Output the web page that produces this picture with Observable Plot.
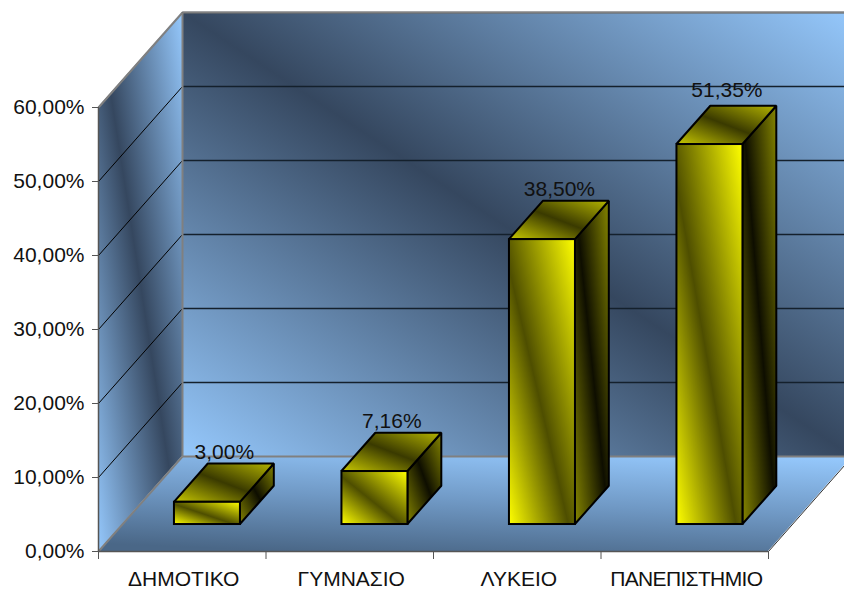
<!DOCTYPE html>
<html>
<head>
<meta charset="utf-8">
<script src="https://cdn.jsdelivr.net/npm/d3@7"></script>
<script src="https://cdn.jsdelivr.net/npm/@observablehq/plot@0.6"></script>
<style>html,body{margin:0;padding:0;background:#fff}svg{display:block;overflow:hidden}</style>
</head>
<body>
<div id="chart"></div>
<script>
const categories = ["ΔΗΜΟΤΙΚΟ", "ΓΥΜΝΑΣΙΟ", "ΛΥΚΕΙΟ", "ΠΑΝΕΠΙΣΤΗΜΙΟ"];
const values = [3.00, 7.16, 38.50, 51.35];
const valueLabels = ["3,00%", "7,16%", "38,50%", "51,35%"];
const yTicks = [0, 10, 20, 30, 40, 50, 60];

// 3-D oblique projection, in data units: full depth of the box
const depthX = 84 / 167.5;   // categories
const depthY = 95 / 7.4;     // percent points
const barFrontX = 0.30, barFrontY = 0.284, barDepth = 0.403, barWidth = 0.394;
const font = "Liberation Sans, Arial, sans-serif";

const gradient = (id, a, b, c, coords = 'x1="0" y1="1" x2="1" y2="0"', mid = 0.5) =>
  `<linearGradient id="${id}" ${coords}><stop offset="0" stop-color="${a}"/><stop offset="${mid}" stop-color="${b}"/><stop offset="1" stop-color="${c}"/></linearGradient>`;

const defs = () => {
  const g = d3.create("svg:defs");
  g.html(
    gradient("wall", "#95c8fc", "#35475f", "#95c8fc") +
    gradient("floor", "#4a6787", "#7099c5", "#95c8fc", 'x1="0.25" y1="1" x2="0.6" y2="-0.1"', 0.5) +
    gradient("front", "#ffff00", "#4e4e00", "#ffff00", 'x1="0" y1="1" x2="1" y2="0"', 0.45) +
    gradient("side", "#858500", "#0e0e00", "#858500") +
    gradient("top", "#c8c800", "#3a3a00", "#b4b400")
  );
  return g.node();
};

const wallEdge = {stroke: "#808080", strokeWidth: 2};
const leftWall = [{x: 0, y1: 0, y2: 60}, {x: depthX, y1: depthY, y2: 60 + depthY}];
const backWall = [{x: depthX, y1: depthY, y2: 60 + depthY}, {x: 4 + depthX, y1: depthY, y2: 60 + depthY}];
const floor = [{y: 0, x1: 0, x2: 4}, {y: depthY, x1: depthX, x2: 4 + depthX}];

const marks = [
  defs,
  Plot.areaY(backWall, {x: "x", y1: "y1", y2: "y2", fill: "url(#wall)"}),
  Plot.areaY(leftWall, {x: "x", y1: "y1", y2: "y2", fill: "url(#wall)"}),
  Plot.ruleY(yTicks.slice(1), {x1: depthX, x2: 4 + depthX, y: d => d + depthY, stroke: "#14202c", strokeWidth: 1.3}),
  Plot.link(yTicks.slice(1, -1), {x1: 0, y1: d => d, x2: depthX, y2: d => d + depthY, stroke: "#000", strokeWidth: 1}),
  Plot.areaX(floor, {y: "y", x1: "x1", x2: "x2", fill: "url(#floor)"}),
  Plot.link([0], {x1: 0, y1: 60, x2: depthX, y2: 60 + depthY, ...wallEdge}),
  Plot.link([0], {x1: depthX, y1: 60 + depthY, x2: 4 + depthX, y2: 60 + depthY, ...wallEdge}),
  Plot.link([0], {x1: depthX, y1: depthY, x2: depthX, y2: 60 + depthY, ...wallEdge}),
  Plot.link([0], {x1: depthX, y1: depthY, x2: 4 + depthX, y2: depthY, ...wallEdge}),
  Plot.link([0], {x1: 0, y1: 0, x2: depthX, y2: depthY, ...wallEdge}),
  Plot.link([0], {x1: 4, y1: 0, x2: 4 + depthX, y2: depthY, stroke: "#333", strokeWidth: 1})
];

values.forEach((v, i) => {
  const x0 = i + 0.5 - barWidth / 2 + barFrontX * depthX;
  const x1 = x0 + barWidth;
  const y0 = barFrontY * depthY;
  const dx = barDepth * depthX, dy = barDepth * depthY;
  const bar = {stroke: "#000", strokeWidth: 2, strokeLinejoin: "miter"};
  marks.push(
    Plot.areaY([{x: x1, a: y0, b: y0 + v}, {x: x1 + dx, a: y0 + dy, b: y0 + v + dy}],
      {x: "x", y1: "a", y2: "b", fill: "url(#side)", ...bar}),
    Plot.areaX([{y: y0 + v, a: x0, b: x1}, {y: y0 + v + dy, a: x0 + dx, b: x1 + dx}],
      {y: "y", x1: "a", x2: "b", fill: "url(#top)", ...bar}),
    Plot.rect([0], {x1: x0, x2: x1, y1: y0, y2: y0 + v, fill: "url(#front)", ...bar}),
    Plot.text([valueLabels[i]], {
      x: i + 0.5 + (barFrontX + barDepth / 2) * depthX, y: y0 + v + dy,
      text: d => d, dy: i === 3 ? -9 : -5, lineAnchor: "bottom", fontSize: 21, fontFamily: font, fill: "#111"
    })
  );
});

marks.push(
  Plot.ruleX([0], {y1: 0, y2: 60, stroke: "#555", strokeWidth: 1.5}),
  Plot.ruleY([0], {x1: 0, x2: 4, stroke: "#555", strokeWidth: 1.5}),
  Plot.axisY({ticks: yTicks, label: null, tickSize: 6, tickPadding: 8, stroke: "#555", fill: "#111", fontSize: 21, fontFamily: font,
    tickFormat: d => d.toFixed(2).replace(".", ",") + "%"}),
  Plot.axisX({ticks: [0, 1, 2, 3, 4], label: null, tickSize: 8, stroke: "#555", tickFormat: () => ""}),
  Plot.text(categories, {x: (d, i) => i + 0.5, y: 0, text: d => d, dx: 1.5, dy: 28, fontSize: 21, fontFamily: font, fill: "#111"})
);

const chart = Plot.plot({
  width: 844, height: 589,
  marginLeft: 98, marginRight: 76, marginTop: 107, marginBottom: 38,
  x: {type: "linear", domain: [0, 4]},
  y: {type: "linear", domain: [0, 60]},
  style: {background: "#fff", fontFamily: font},
  marks
});
// The longest category label is set tighter, as in the original
d3.select(chart).selectAll("text").filter(function () { return this.textContent === categories[3]; })
  .style("letter-spacing", "-0.65px");
document.getElementById("chart").append(chart);
</script>
</body>
</html>
